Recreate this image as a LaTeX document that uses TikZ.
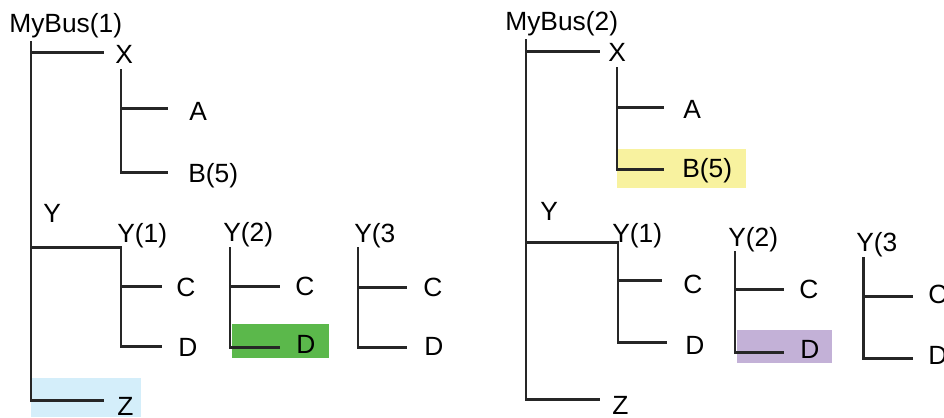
\documentclass[tikz,border=0pt]{standalone}
\usepackage{fontspec}
\setmainfont{Liberation Sans}
\definecolor{hlblue}{HTML}{D4EEFA}
\definecolor{hlgreen}{HTML}{5BB84B}
\definecolor{hlyellow}{HTML}{F8F29F}
\definecolor{hlpurple}{HTML}{C3B1D7}

\begin{document}
\begin{tikzpicture}[x=0.02cm, y=-0.02cm,
    lbl/.style={anchor=base west, inner sep=0pt, font=\fontsize{15}{17}\selectfont},
    tree/.style={line width=1.7pt, black!85}]
    \useasboundingbox (0,0) rectangle (944,417);
    \clip (0,0) rectangle (944,417);
    % highlights
    \fill[hlblue] (31,378) rectangle (141,417);
    \fill[hlgreen] (232,324) rectangle (329,358);
    \fill[hlyellow] (617,149) rectangle (746,188);
    \fill[hlpurple] (737,330) rectangle (832,363);
    % left tree: MyBus(1)
    \node[lbl] (bus1) at (9,32) {MyBus(1)};
    \node[lbl] (x1) at (115,63) {X};
    \node[lbl] (a1) at (189,120) {A};
    \node[lbl] (b1) at (188,182) {B(5)};
    \node[lbl] (y1) at (43,222) {Y};
    \node[lbl] (y11) at (117,242) {Y(1)};
    \node[lbl] (c11) at (176,296) {C};
    \node[lbl] (d11) at (178,356) {D};
    \node[lbl] (y12) at (223,241) {Y(2)};
    \node[lbl] (c12) at (295,295) {C};
    \node[lbl] (d12) at (296,353) {D};
    \node[lbl] (y13) at (354,242) {Y(3};
    \node[lbl] (c13) at (423,296) {C};
    \node[lbl] (d13) at (424,355) {D};
    \node[lbl] (z1) at (117,415) {Z};
    \coordinate (T1) at (31,41);
    \coordinate (Z1) at (104,400);
    \coordinate (X1a) at (31,52);
    \coordinate (X1b) at (104,52);
    \coordinate (XT1) at (121,69);
    \coordinate (A1a) at (121,108);
    \coordinate (A1b) at (168,108);
    \coordinate (B1) at (168,172);
    \coordinate (Y1a) at (31,247);
    \coordinate (Y1b) at (121,346);
    \coordinate (D11) at (162,346);
    \coordinate (C11a) at (121,286);
    \coordinate (C11b) at (162,286);
    \coordinate (Y12) at (230,247);
    \coordinate (D12) at (280,347);
    \coordinate (C12a) at (230,286);
    \coordinate (C12b) at (280,286);
    \coordinate (Y13) at (358,247);
    \coordinate (D13) at (407,347);
    \coordinate (C13a) at (358,287);
    \coordinate (C13b) at (407,287);
    \draw[tree] (T1) |- (Z1);
    \draw[tree] (X1a) -- (X1b);
    \draw[tree] (XT1) |- (B1);
    \draw[tree] (A1a) -- (A1b);
    \draw[tree] (Y1a) -| (Y1b) -- (D11);
    \draw[tree] (C11a) -- (C11b);
    \draw[tree] (Y12) |- (D12);
    \draw[tree] (C12a) -- (C12b);
    \draw[tree] (Y13) |- (D13);
    \draw[tree] (C13a) -- (C13b);
    % right tree: MyBus(2)
    \node[lbl] (bus2) at (505,30) {MyBus(2)};
    \node[lbl] (x2) at (608,61) {X};
    \node[lbl] (a2) at (683,118) {A};
    \node[lbl] (b2) at (682,177) {B(5)};
    \node[lbl] (y2) at (540,220) {Y};
    \node[lbl] (y21) at (612,242) {Y(1)};
    \node[lbl] (c21) at (683,293) {C};
    \node[lbl] (d21) at (685,354) {D};
    \node[lbl] (y22) at (728,246) {Y(2)};
    \node[lbl] (c22) at (799,298) {C};
    \node[lbl] (d22) at (800,358) {D};
    \node[lbl] (y23) at (856,251) {Y(3};
    \node[lbl] (c23) at (928,303) {C};
    \node[lbl] (d23) at (928,364) {D};
    \node[lbl] (z2) at (612,414) {Z};
    \coordinate (T2) at (526,39);
    \coordinate (Z2) at (600,399);
    \coordinate (X2a) at (526,51);
    \coordinate (X2b) at (600,51);
    \coordinate (XT2) at (617,67);
    \coordinate (A2a) at (617,107);
    \coordinate (A2b) at (664,107);
    \coordinate (B2) at (664,169);
    \coordinate (Y2a) at (526,242);
    \coordinate (Y2b) at (618,342);
    \coordinate (D21) at (667,342);
    \coordinate (C21a) at (618,280);
    \coordinate (C21b) at (662,280);
    \coordinate (Y22) at (735,251);
    \coordinate (D22) at (784,352);
    \coordinate (C22a) at (735,289);
    \coordinate (C22b) at (784,289);
    \coordinate (Y23) at (863,257);
    \coordinate (D23) at (913,358);
    \coordinate (C23a) at (863,296);
    \coordinate (C23b) at (913,296);
    \draw[tree] (T2) |- (Z2);
    \draw[tree] (X2a) -- (X2b);
    \draw[tree] (XT2) |- (B2);
    \draw[tree] (A2a) -- (A2b);
    \draw[tree] (Y2a) -| (Y2b) -- (D21);
    \draw[tree] (C21a) -- (C21b);
    \draw[tree] (Y22) |- (D22);
    \draw[tree] (C22a) -- (C22b);
    \draw[tree] (Y23) |- (D23);
    \draw[tree] (C23a) -- (C23b);
\end{tikzpicture}
\end{document}
